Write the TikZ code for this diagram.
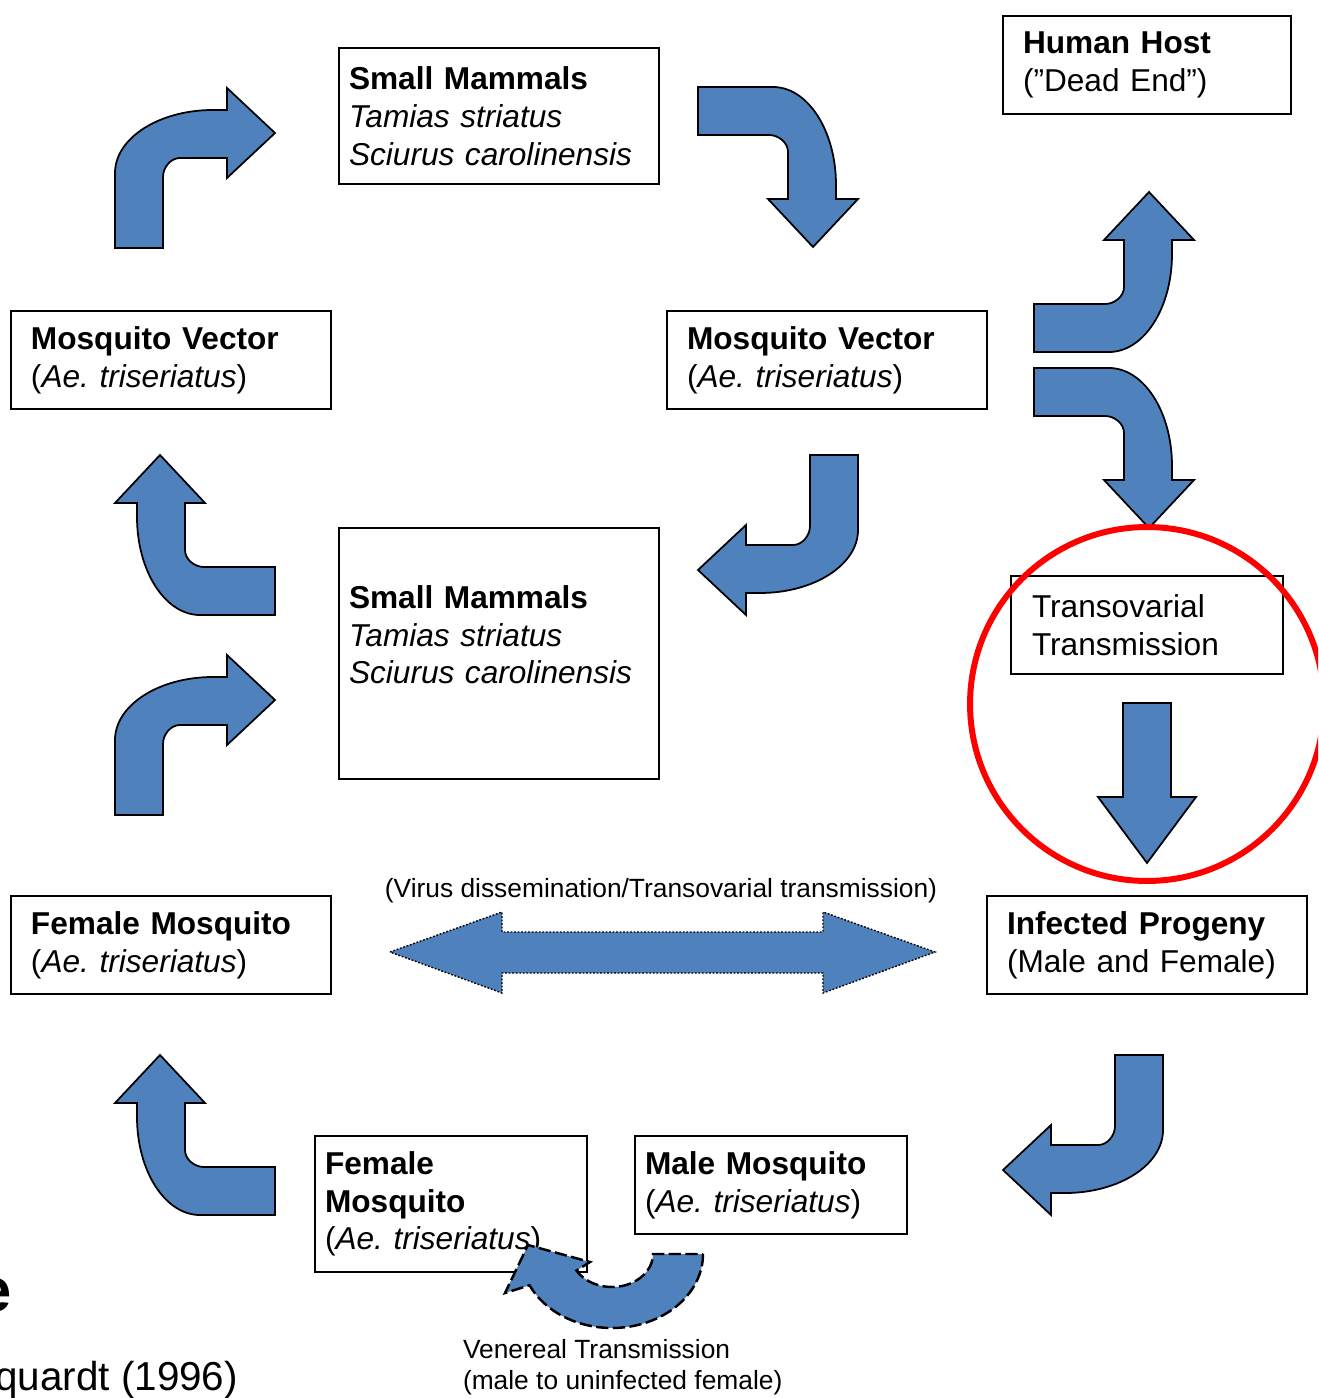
\documentclass[tikz,border=0pt]{standalone}
\usepackage{fontspec}
\setmainfont{Liberation Sans}
\definecolor{arrowblue}{RGB}{79,129,189}
\newcommand\fbig{\fontsize{18}{21.5}\selectfont}
\newcommand\fsmall{\fontsize{15}{18}\selectfont}
\tikzset{
  box/.style={draw=black, line width=0.9pt, anchor=north west, align=left,
    inner ysep=0pt, outer sep=0pt, font=\fbig},
  blockarrow/.style={fill=arrowblue, draw=black, line width=1pt, line join=miter},
  lbl/.style={inner sep=0pt, outer sep=0pt},
}
\newcommand\bentarrow[1]{%
  \begin{scope}[#1]
    \draw[blockarrow] (0,0) -- (0,75) .. controls (0,109.8) and (43.9,138) .. (98,138)
      -- (112,138) -- (112,160) -- (160,115) -- (112,70) -- (112,90) -- (65,90)
      .. controls (55.6,90) and (48,80.5) .. (48,71) -- (48,0) -- cycle;
  \end{scope}}
\frenchspacing
\begin{document}
\begin{tikzpicture}[x=0.02cm, y=0.02cm]
\useasboundingbox (0,0) rectangle (1318,-1398);
\clip (0,0) rectangle (1318,-1398);

% boxes
\node[box, text width=6cm, inner xsep=0.2cm, minimum height=2.72cm] (sm1) at (339,-48)
  {\textbf{Small Mammals}\\\textit{Tamias striatus}\\\textit{Sciurus carolinensis}};
\node[box, text width=4.96cm, inner xsep=0.4cm, minimum height=1.96cm] (host) at (1003,-16)
  {\textbf{Human Host}\\(”Dead End”)};
\node[box, text width=5.6cm, inner xsep=0.4cm, minimum height=1.96cm] (mv1) at (11,-311)
  {\textbf{Mosquito Vector}\\(\textit{Ae. triseriatus})};
\node[box, text width=5.6cm, inner xsep=0.4cm, minimum height=1.96cm] (mv2) at (667,-311)
  {\textbf{Mosquito Vector}\\(\textit{Ae. triseriatus})};
\node[box, text width=6cm, inner xsep=0.2cm, minimum height=5.02cm] (sm2) at (339,-528)
  {\textbf{Small Mammals}\\\textit{Tamias striatus}\\\textit{Sciurus carolinensis}\\~};
\node[box, text width=4.6cm, inner xsep=0.42cm, minimum height=1.96cm] (tov) at (1011,-576)
  {Transovarial\\Transmission};
\node[box, text width=5.6cm, inner xsep=0.4cm, minimum height=1.96cm] (fm1) at (11,-896)
  {\textbf{Female Mosquito}\\(\textit{Ae. triseriatus})};
\node[box, text width=5.6cm, inner xsep=0.4cm, minimum height=1.96cm] (prog) at (987,-896)
  {\textbf{Infected Progeny}\\(Male and Female)};
\node[box, text width=5.04cm, inner xsep=0.2cm, minimum height=2.72cm] (fm2) at (315,-1136)
  {\textbf{Female}\\\textbf{Mosquito}\\(\textit{Ae. triseriatus})};
\node[box, text width=5.04cm, inner xsep=0.2cm, minimum height=1.96cm] (male) at (635,-1136)
  {\textbf{Male Mosquito}\\(\textit{Ae. triseriatus})};

% bent arrows
\bentarrow{shift={(115,-248)}}
\bentarrow{shift={(698,-87)}, rotate=-90}
\bentarrow{shift={(1034,-352)}, rotate=-90, xscale=-1}
\bentarrow{shift={(1034,-368)}, rotate=-90}
\bentarrow{shift={(858,-455)}, rotate=180}
\bentarrow{shift={(275,-615)}, rotate=90}
\bentarrow{shift={(115,-815)}}
\bentarrow{shift={(275,-1215)}, rotate=90}
\bentarrow{shift={(1163,-1055)}, rotate=180}

% straight arrow in circle
\draw[blockarrow] (1123,-703) -- (1171,-703) -- (1171,-797) -- (1196,-797) -- (1147,-863)
  -- (1098,-797) -- (1123,-797) -- cycle;

% double arrow
\draw[blockarrow, densely dotted, line width=0.8pt] (390,-952) -- (502,-912) -- (502,-932)
  -- (823,-932) -- (823,-912) -- (935,-952) -- (823,-993) -- (823,-973) -- (502,-973)
  -- (502,-993) -- cycle;

% circular dashed arrow
\draw[blockarrow, dash pattern=on 7pt off 2.5pt, line width=1.4pt] (703,-1254)
  arc[start angle=0, end angle=-155, x radius=1.82cm, y radius=1.48cm]
  -- (505,-1293) -- (528,-1245) -- (590,-1262) -- (576.5,-1270.5)
  arc[start angle=-150, end angle=0, x radius=0.82cm, y radius=0.66cm] -- cycle;

% red circle
\draw[red, line width=3.4pt] (1147,-704) circle[radius=3.54cm];

% labels
\node[lbl, font=\fsmall] (virus) at (661,-891) {(Virus dissemination/Transovarial transmission)};
\node[lbl, font=\fsmall, align=left, anchor=west] (ven) at (463,-1367)
  {Venereal Transmission\\(male to uninfected female)};
\node[lbl, font=\fontsize{23}{27}\selectfont, anchor=base east] (ref) at (238,-1390) {quardt (1996)};
\node[lbl, font=\fontsize{35}{40}\selectfont\bfseries, anchor=base east] (ttl) at (12,-1311) {e};
\end{tikzpicture}
\end{document}
